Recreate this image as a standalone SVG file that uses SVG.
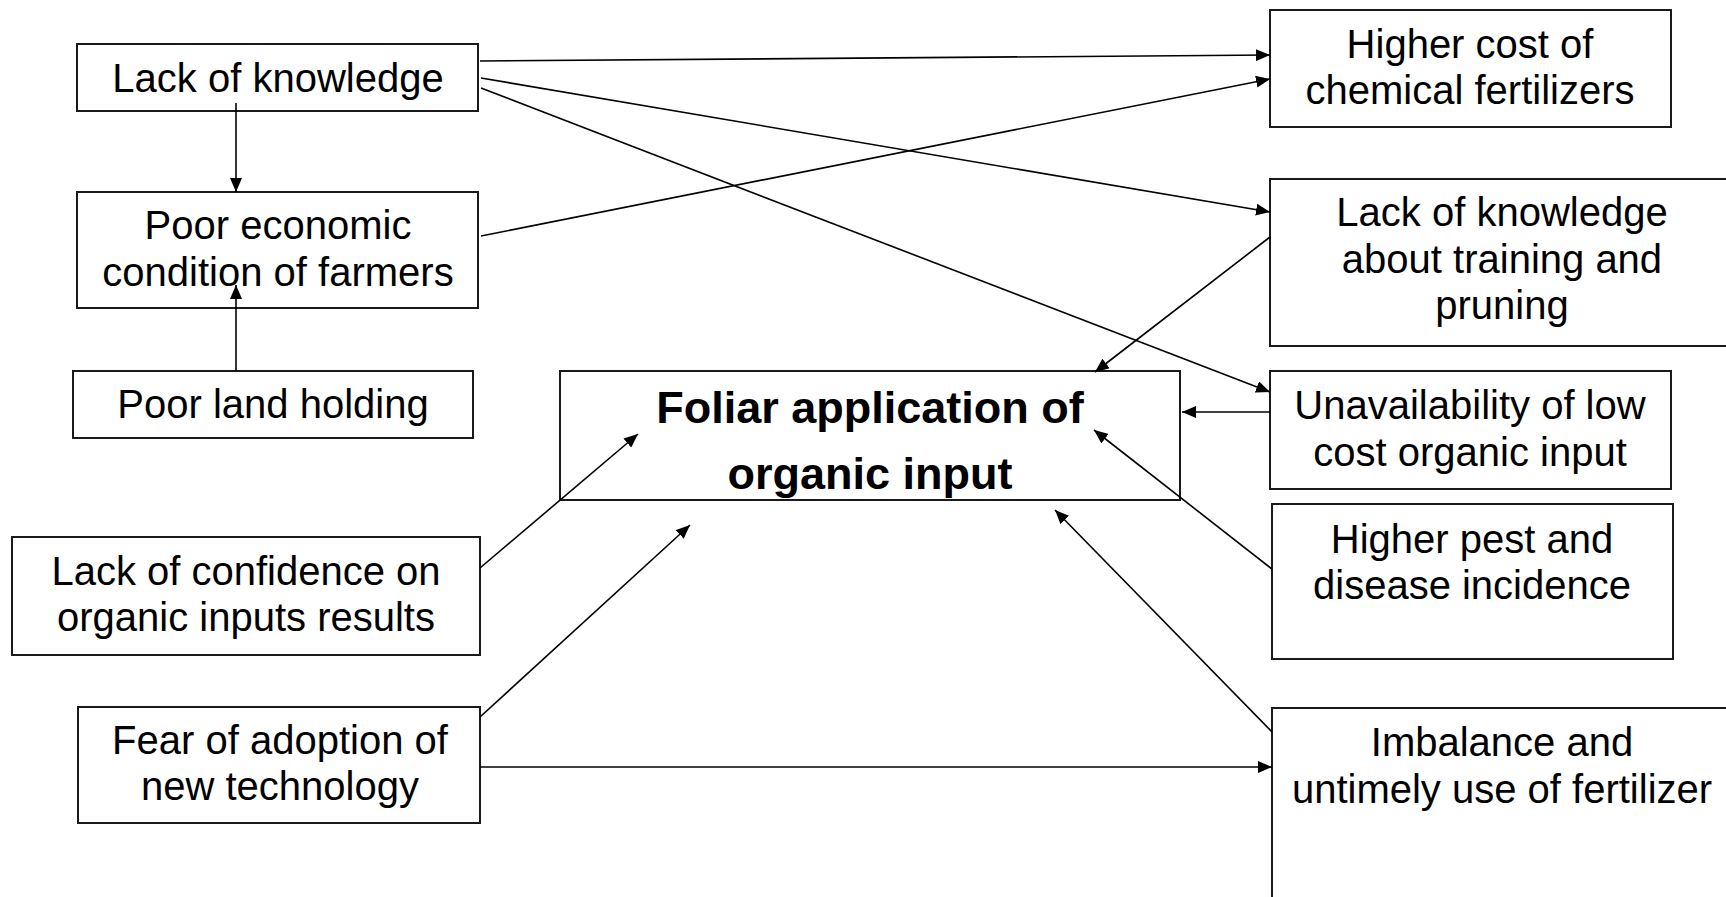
<svg xmlns="http://www.w3.org/2000/svg" width="1726" height="897" viewBox="0 0 1726 897">
<style>
.box{fill:#fff;stroke:#1a1a1a;stroke-width:2}
.t{font-family:"Liberation Sans",Arial,sans-serif;font-size:40px;fill:#000;text-anchor:middle}
.b{font-family:"Liberation Sans",Arial,sans-serif;font-size:45px;font-weight:bold;fill:#000;text-anchor:middle}
.c{stroke:#000;stroke-width:1.6;fill:none;marker-end:url(#ah)}
</style>
<defs>
<marker id="ah" viewBox="0 0 14 12" refX="14" refY="6" markerWidth="14" markerHeight="12" markerUnits="userSpaceOnUse" orient="auto">
<path d="M0,0 L14,6 L0,12 z" fill="#000"/>
</marker>
</defs>
<rect width="1726" height="897" fill="#fff"/>
<g id="n_lack_knowledge"><rect class="box" x="77" y="44" width="401" height="67"/><text class="t" x="278" y="92">Lack of knowledge</text></g>
<g id="n_poor_economic"><rect class="box" x="77" y="192" width="401" height="116"/><text class="t" x="278" y="239">Poor economic</text><text class="t" x="278" y="286">condition of farmers</text></g>
<g id="n_poor_land"><rect class="box" x="73" y="371" width="400" height="67"/><text class="t" x="273" y="418">Poor land holding</text></g>
<g id="n_central"><rect class="box" x="560" y="371" width="620" height="129"/><text class="b" x="870" y="423">Foliar application of</text><text class="b" x="870" y="489">organic input</text></g>
<g id="n_confidence"><rect class="box" x="12" y="537" width="468" height="118"/><text class="t" x="246" y="585">Lack of confidence on</text><text class="t" x="246" y="631">organic inputs results</text></g>
<g id="n_fear"><rect class="box" x="78" y="707" width="402" height="116"/><text class="t" x="280" y="754">Fear of adoption of</text><text class="t" x="280" y="800">new technology</text></g>
<g id="n_higher_cost"><rect class="box" x="1270" y="10" width="401" height="117"/><text class="t" x="1470" y="58">Higher cost of</text><text class="t" x="1470" y="104">chemical fertilizers</text></g>
<g id="n_training"><rect class="box" x="1270" y="179" width="470" height="167"/><text class="t" x="1502" y="226">Lack of knowledge</text><text class="t" x="1502" y="273">about training and</text><text class="t" x="1502" y="319">pruning</text></g>
<g id="n_unavailability"><rect class="box" x="1270" y="371" width="401" height="118"/><text class="t" x="1470" y="419">Unavailability of low</text><text class="t" x="1470" y="466">cost organic input</text></g>
<g id="n_pest"><rect class="box" x="1272" y="504" width="401" height="155"/><text class="t" x="1472" y="553">Higher pest and</text><text class="t" x="1472" y="599">disease incidence</text></g>
<g id="n_imbalance"><rect class="box" x="1272" y="708" width="470" height="210"/><text class="t" x="1502" y="756">Imbalance and</text><text class="t" x="1502" y="803">untimely use of fertilizer</text></g>
<g id="connectors">
<line class="c" x1="236" y1="103" x2="236" y2="192"/>
<line class="c" x1="236" y1="371" x2="236" y2="285"/>
<line class="c" x1="480" y1="61" x2="1270" y2="55"/>
<line class="c" x1="481" y1="78" x2="1270" y2="212"/>
<line class="c" x1="481" y1="88" x2="1270" y2="392"/>
<line class="c" x1="481" y1="236" x2="1270" y2="79"/>
<line class="c" x1="1270" y1="237" x2="1095" y2="372"/>
<line class="c" x1="1270" y1="412" x2="1182" y2="412"/>
<line class="c" x1="480" y1="568" x2="638" y2="434"/>
<line class="c" x1="480" y1="717" x2="690" y2="525"/>
<line class="c" x1="480" y1="767" x2="1272" y2="767"/>
<line class="c" x1="1272" y1="569" x2="1094" y2="430"/>
<line class="c" x1="1272" y1="732" x2="1055" y2="510"/>
</g>
</svg>
